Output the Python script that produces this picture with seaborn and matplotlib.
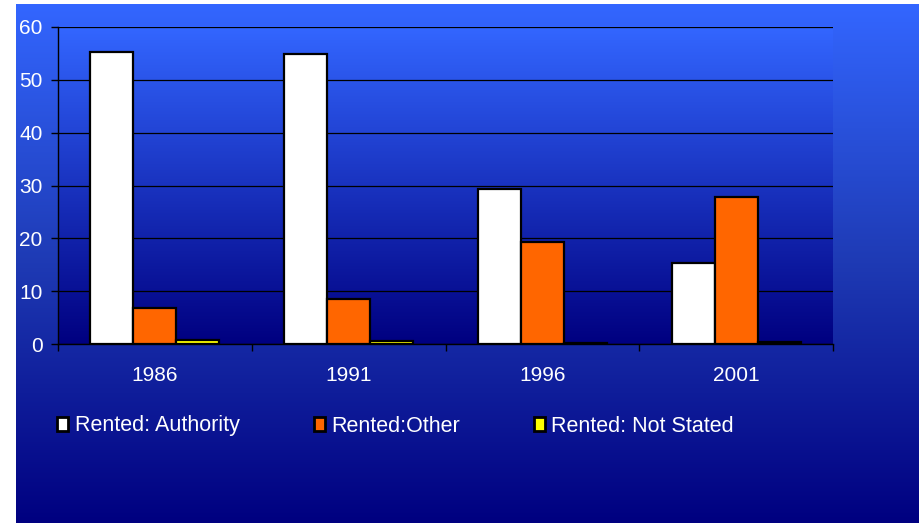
import numpy as np
import pandas as pd
import matplotlib
matplotlib.use("Agg")
import matplotlib.pyplot as plt
from matplotlib.colors import LinearSegmentedColormap
from matplotlib.patches import Patch
import seaborn as sns

# -----------------------------
# Data
# -----------------------------
years = ["1986", "1991", "1996", "2001"]
series = ["Rented: Authority", "Rented:Other", "Rented: Not Stated"]
authority = [55.2, 54.8, 29.4, 15.3]
other = [6.8, 8.6, 19.4, 27.8]
not_stated = [0.7, 0.6, 0.2, 0.3]
colors = ["#ffffff", "#ff6600", "#ffff00"]

df = pd.DataFrame({
    "year": years * 3,
    "type": [s for s in series for _ in years],
    "value": authority + other + not_stated,
})

sns.set_style("white")
plt.rcParams["font.family"] = ["Liberation Sans", "DejaVu Sans"]

fig = plt.figure(figsize=(9.19, 5.23), dpi=100)
fig.patch.set_facecolor("white")

grad = LinearSegmentedColormap.from_list("bg", ["#3366ff", "#1e3ab4", "#000080"])
g = np.linspace(0, 1, 256).reshape(-1, 1)

# figure background gradient
bg = fig.add_axes([16 / 919, 0, 1 - 16 / 919, 1 - 4 / 523], zorder=-2)
bg.imshow(g, cmap=grad, aspect="auto", extent=[0, 1, 0, 1])
bg.axis("off")

# plot area gradient
pos = [58 / 919, 1 - 344 / 523, 775 / 919, 317 / 523]
pa = fig.add_axes(pos, zorder=-1)
pa.imshow(g, cmap=LinearSegmentedColormap.from_list("pa", ["#3366ff", "#000080"]),
          aspect="auto", extent=[0, 1, 0, 1])
pa.axis("off")

ax = fig.add_axes(pos)
ax.set_facecolor("none")

sns.barplot(
    data=df, x="year", y="value", hue="type",
    palette=colors, saturation=1, width=0.667, gap=0,
    edgecolor="black", linewidth=1.6,
    ax=ax, legend=False, zorder=3,
)

ax.set_ylim(0, 60)
ax.set_xlim(-0.5, 3.5)
ax.set_yticks(range(0, 61, 10))
ax.yaxis.grid(True, color="black", linewidth=0.9)
ax.set_axisbelow(True)
ax.set_xlabel("")
ax.set_ylabel("")

for s in ["top", "right"]:
    ax.spines[s].set_visible(False)
for s in ["left", "bottom"]:
    ax.spines[s].set_color("black")
    ax.spines[s].set_linewidth(1.0)

ax.tick_params(axis="y", colors="black", labelcolor="white", labelsize=15,
               length=5, width=1, left=True, pad=6)
ax.tick_params(axis="x", which="major", length=0, labelcolor="white",
               labelsize=15, pad=16)
ax.set_xticks([-0.5, 0.5, 1.5, 2.5, 3.5], minor=True)
ax.tick_params(axis="x", which="minor", length=5, width=1, color="black",
               bottom=True)

handles = [Patch(facecolor=c, edgecolor="black", linewidth=2) for c in colors]
fig.legend(
    handles, series,
    loc="center left", bbox_to_anchor=(38 / 919, 1 - 426 / 523),
    ncol=3, frameon=False, fontsize=15.5, labelcolor="white",
    handlelength=0.5, handleheight=0.65, handletextpad=0.3,
    columnspacing=3.45,
)

fig.savefig("out.png", dpi=100)
